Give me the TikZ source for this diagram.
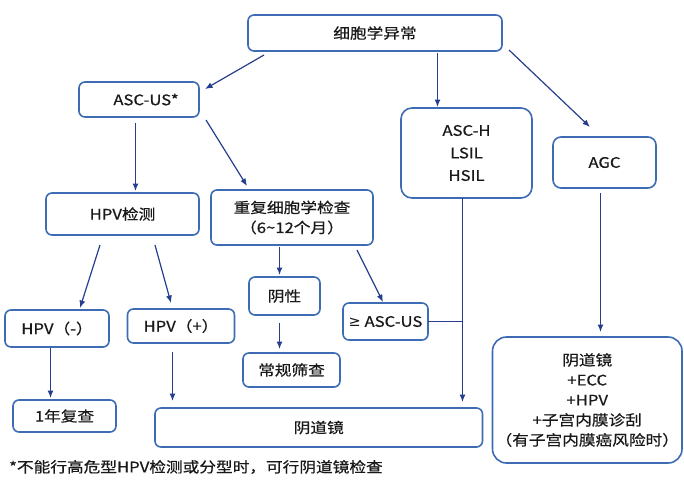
\documentclass[tikz,border=0pt]{standalone}
\usepackage{fontspec}
\setmainfont{Noto Sans CJK SC}[FakeStretch=1.15,FakeBold=0.6]
\newfontfamily\symfont{DejaVu Sans}[FakeStretch=1.0]
\usetikzlibrary{arrows.meta,calc}
\definecolor{boxc}{RGB}{62,108,180}
\definecolor{arrc}{RGB}{38,62,142}
\definecolor{txtc}{RGB}{25,25,25}
\tikzset{
  bx/.style={draw=boxc,line width=1.6pt,rounded corners=6pt,fill=white,text=txtc,
    font=\fontsize{14.5}{20}\selectfont,align=center,inner sep=0pt,outer sep=0pt},
  arr/.style={draw=arrc,line width=1.2pt,-{Latex[length=7.5pt,width=6pt]}},
  ln/.style={draw=arrc,line width=1.2pt}
}
\begin{document}
\begin{tikzpicture}[x=1pt,y=-1pt]
\useasboundingbox (0,0) rectangle (684,483);
\node[bx,minimum width=254pt,minimum height=36pt] (top) at (375,33) {细胞学异常};
\node[bx,minimum width=120pt,minimum height=35pt] (ascus) at (139,99.5) {\hspace*{14pt}ASC-US*};
\node[bx,minimum width=131pt,minimum height=90pt,rounded corners=11pt] (asch) at (466.5,153) {ASC-H\\[2.5pt]LSIL\\[2.5pt]HSIL};
\node[bx,minimum width=103pt,minimum height=51pt,rounded corners=8pt] (agc) at (604.5,162.5) {AGC};
\node[bx,minimum width=153pt,minimum height=42pt] (hpvt) at (122.5,214) {HPV检测};
\node[bx,minimum width=162pt,minimum height=55pt] (rep) at (292,217.5) {重复细胞学检查\\（6\textasciitilde12个月）};
\node[bx,minimum width=71pt,minimum height=38pt] (neg) at (284.5,296) {阴性};
\node[bx,minimum width=85pt,minimum height=37pt] (ge) at (385.5,321.5) {{\symfont ≥} ASC-US};
\node[bx,minimum width=104pt,minimum height=37pt] (hm) at (57,328.5) {HPV（-）};
\node[bx,minimum width=107pt,minimum height=34pt] (hp) at (181,326) {HPV（+）};
\node[bx,minimum width=97pt,minimum height=34pt] (rou) at (291.5,370) {常规筛查};
\node[bx,minimum width=103pt,minimum height=32pt] (y1) at (64.5,416) {1年复查};
\node[bx,minimum width=327.5pt,minimum height=39pt] (colpo) at (318.75,427.5) {阴道镜};
\node[bx,minimum width=189.5pt,minimum height=126pt,rounded corners=14pt] (colpo2) at (587.25,400)
  {阴道镜\\+ECC\\+HPV\\+子宫内膜诊刮\\（有子宫内膜癌风险时）};
\node[anchor=west,text=txtc,font=\fontsize{14.5}{18}\selectfont,inner sep=0pt] (note) at (9,467) {*不能行高危型HPV检测或分型时，可行阴道镜检查};
% connectors
\draw[arr] ($(top.south west)+(16,4)$) -- ($(ascus.north east)+(6,7)$);
\coordinate (s2) at ($(top.south)+(62.5,2)$);
\draw[arr,shorten >=1pt] (s2) -- (s2 |- asch.north);
\draw[arr] ($(top.south east)+(7,-1)$) -- ($(agc.north west)+(37,-10)$);
\coordinate (s4) at ($(ascus.south)+(-3.5,6)$);
\draw[arr,shorten >=2pt] (s4) -- (s4 |- hpvt.north);
\draw[arr] ($(ascus.south east)+(7,3)$) -- ($(rep.north west)+(36,-4)$);
\draw[arr] ($(hpvt.south)+(-22.5,10)$) -- ($(hm.north)+(23,-2)$);
\draw[arr] ($(hpvt.south)+(32.5,10)$) -- ($(hp.north)+(-10,-6)$);
\coordinate (s8) at ($(rep.south)+(-12.5,2)$);
\draw[arr,shorten >=2pt] (s8) -- (s8 |- neg.north);
\draw[arr] ($(rep.south east)+(-16,5)$) -- ($(ge.north)+(-2.5,-1)$);
\coordinate (s10) at ($(neg.south)+(-5,8)$);
\draw[arr,shorten >=4pt] (s10) -- (s10 |- rou.north);
\coordinate (s11) at ($(hm.south)+(-6.5,1)$);
\draw[arr,shorten >=2pt] (s11) -- (s11 |- y1.north);
\coordinate (s12) at ($(hp.south)+(-8.5,9)$);
\draw[arr,shorten >=7pt] (s12) -- (s12 |- colpo.north);
\coordinate (vx) at ($(asch.south)+(-4,0)$);
\draw[arr,shorten >=6pt] (vx) -- (vx |- colpo.north);
\draw[ln] (ge.east) -- (ge.east -| vx);
\coordinate (s15) at ($(agc.south)+(-4,5)$);
\draw[arr,shorten >=5pt] (s15) -- (s15 |- colpo2.north);
\end{tikzpicture}
\end{document}
